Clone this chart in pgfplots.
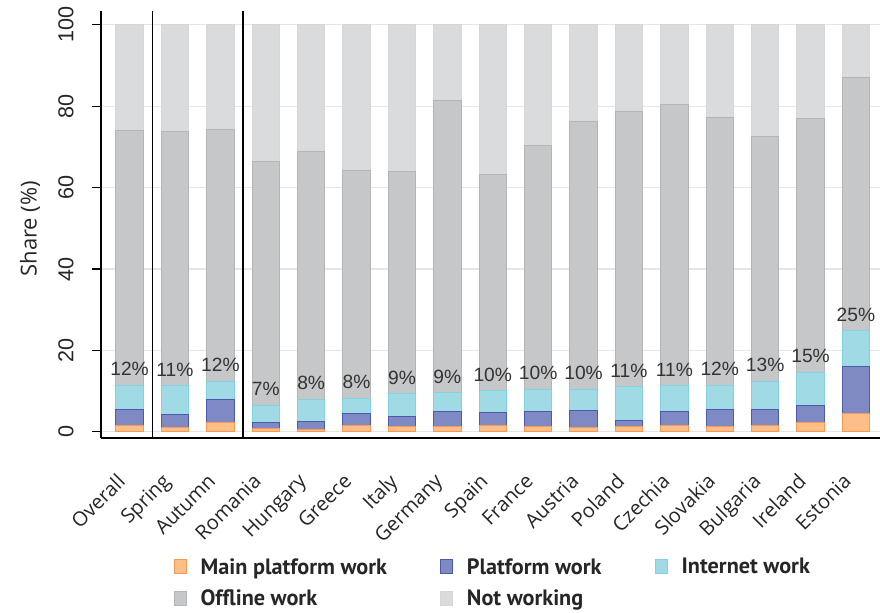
\documentclass[border=0pt]{standalone}
\usepackage{fontspec}
\setmainfont{Open Sans}
\newfontfamily\arialf{Liberation Sans}
\newfontfamily\legf{PT Sans}
\usepackage{pgfplots}
\usepackage{pgfplotstable}
\pgfplotsset{compat=1.18}
\definecolor{orf}{HTML}{FDBE87}
\definecolor{ore}{HTML}{F59A55}
\definecolor{blf}{HTML}{7F89C4}
\definecolor{ble}{HTML}{4A5AAF}
\definecolor{cyf}{HTML}{A0DAE4}
\definecolor{cye}{HTML}{84D2E0}
\definecolor{off}{HTML}{C6C7C9}
\definecolor{offe}{HTML}{B4B5B7}
\definecolor{nwf}{HTML}{DADBDC}
\definecolor{nwe}{HTML}{D5D6D7}
\definecolor{gridc}{HTML}{E6E6E6}
\definecolor{labc}{HTML}{333333}

\pgfplotstableread{
x main plat inet off notw top lab
0  1.5  4.1  5.9 62.5 26.0 11.5 12
1  1.15 3.15 7.0 62.4 26.3 11.3 11
2  2.3  5.6  4.5 61.8 25.8 12.4 12
3  0.8  1.4  4.4 59.9 33.5 6.6 7
4  0.7  1.8  5.5 61.0 31.0 8.0 8
5  1.5  2.9  3.8 56.0 35.8 8.2 8
6  1.2  2.7  5.5 54.5 36.1 9.4 9
7  1.3  3.6  4.7 71.9 18.5 9.6 9
8  1.5  3.2  5.4 53.2 36.7 10.1 10
9  1.3  3.8  5.4 59.8 29.7 10.5 10
10 1.15 4.05 5.3 65.8 23.7 10.5 10
11 1.3  1.6  8.2 67.7 21.2 11.1 11
12 1.5  3.4  6.4 69.2 19.5 11.3 11
13 1.3  4.1  6.1 65.8 22.7 11.5 12
14 1.5  3.9  7.1 60.0 27.5 12.5 13
15 2.3  4.2  8.1 62.4 23.0 14.6 15
16 4.5  11.5 8.8 62.2 13.0 24.8 25
}\data

\begin{document}
\begin{tikzpicture}
\pgfplotsset{
  common/.style={
    scale only axis, width=389.5pt, height=213.5pt,
    xmin=-0.63, xmax=16.53, ymin=-1.5, ymax=103.4,
    bar width=13.7pt,
  }
}
\begin{axis}[
  common,
  ybar stacked,
  axis lines*=left,
  axis line style={black, line width=0.6pt},
  xtick={0,...,16},
  xticklabels={Overall,Spring,Autumn,Romania,Hungary,Greece,Italy,Germany,Spain,France,Austria,Poland,Czechia,Slovakia,Bulgaria,Ireland,Estonia},
  xticklabel style={xshift=-7pt, rotate=45, anchor=north east, font=\fontsize{10}{11}\selectfont, color=black!85, inner sep=1pt},
  xticklabel shift=11pt,
  x tick style={draw=none},
  ytick={0,20,40,60,80,100},
  yticklabels={0,20,40,60,80,100},
  yticklabel style={rotate=90, anchor=south, font=\arialf\fontsize{10.8}{12}\selectfont, color=black!85, inner sep=0pt},
  yticklabel shift=9pt,
  y tick style={black, line width=0.6pt},
  tick align=outside,
  major tick length=4.5pt,
  ymajorgrids,
  grid style={gridc, line width=0.6pt},
  ylabel={Share (\%)},
  ylabel style={at={(axis description cs:-0.091,0.49)}, anchor=center, font=\fontsize{11}{12}\selectfont, color=black!85},
  legend columns=3,
  legend cell align=left,
  legend style={at={(axis description cs:0.085,-0.262)}, anchor=north west, draw=none, fill=none,
    font=\legf\bfseries\fontsize{11.1}{12}\selectfont, text=black!85,
    /tikz/every odd column/.append style={column sep=5pt},
    /tikz/every even column/.append style={column sep=24.5pt},
    row sep=2.5pt},
  legend image code/.code={\draw[#1, line width=0.5pt] (0pt,-3pt) rectangle (6pt,4pt);},
  every axis plot/.append style={line width=0.5pt},
]
\addplot[fill=orf, draw=ore] table[x=x, y=main] {\data};
\addplot[fill=blf, draw=ble] table[x=x, y=plat] {\data};
\addplot[fill=cyf, draw=cye] table[x=x, y=inet] {\data};
\addplot[fill=off, draw=offe] table[x=x, y=off] {\data};
\addplot[fill=nwf, draw=nwe] table[x=x, y=notw] {\data};
\legend{Main platform work, Platform work, Internet work, Offline work, Not working}
\draw[black, line width=0.6pt] (axis cs:0.5,-1.5) -- (axis cs:0.5,103.4);
\draw[black, line width=0.6pt] (axis cs:2.5,-1.5) -- (axis cs:2.5,103.4);
\end{axis}
\begin{axis}[
  common,
  ybar,
  hide axis,
  nodes near coords={\pgfplotspointmeta\%},
  point meta=explicit symbolic,
  every node near coord/.append style={font=\arialf\fontsize{9.6}{10}\selectfont, color=labc, anchor=south, inner sep=0pt, yshift=4.5pt},
]
\addplot[draw=none, fill=none] table[x=x, y=top, meta=lab] {\data};
\end{axis}
\pgfresetboundingbox
\path (-50.5pt,-87.5pt) rectangle (389.5pt,219pt);
\end{tikzpicture}
\end{document}
